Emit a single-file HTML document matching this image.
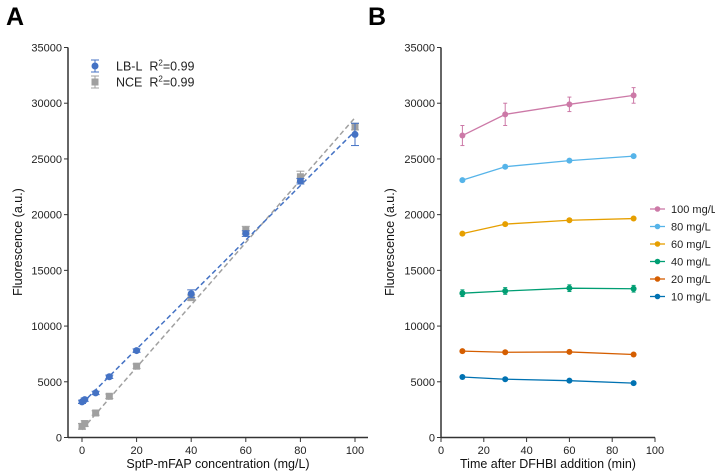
<!DOCTYPE html>
<html><head><meta charset="utf-8"><style>
body{margin:0;background:#fff}
svg{font-family:"Liberation Sans",Arial,sans-serif}
</style></head><body>
<svg id="s" width="715" height="471" viewBox="0 0 715 471" xmlns="http://www.w3.org/2000/svg">
<text x="6" y="25" font-size="25" font-weight="bold">A</text>
<text x="368" y="25" font-size="25" font-weight="bold">B</text>
<g id="ga"></g>
<g id="gb"></g>
</svg>
<script>
const aConc=[0,1,5,10,20,40,60,80,100];
const aLB=[3200,3400,4000,5450,7800,12900,18300,23000,27200];
const aLBerr=[150,150,150,150,150,350,250,250,1000];
const aNCE=[1000,1250,2200,3700,6400,12550,18600,23400,27900];
const aNCEerr=[250,250,200,200,200,250,350,500,300];
const aFitLB=[3050,27500];
const aFitNCE=[700,28700];
const aXTicks=[0,20,40,60,80,100];
const yTicks=[0,5000,10000,15000,20000,25000,30000,35000];
const bTimes=[10,30,60,90];
const bXTicks=[0,20,40,60,80,100];
const bLabels=["100 mg/L","80 mg/L","60 mg/L","40 mg/L","20 mg/L","10 mg/L"];
const bColors=["#cc79a7","#56b4e9","#e69f00","#009e73","#d55e00","#0072b2"];
const b100=[27100,29000,29900,30700];
const b80=[23100,24300,24850,25250];
const b60=[18300,19150,19500,19650];
const b40=[12950,13150,13400,13350];
const b20=[7750,7650,7680,7450];
const b10=[5430,5230,5100,4880];
const bErr100=[900,1000,650,700];
const bErrSmall=[120,120,120,120];
const bErr40=[300,300,300,300];

const NS="http://www.w3.org/2000/svg";
function mk(p,t,a){const e=document.createElementNS(NS,t);for(const k in a)e.setAttribute(k,a[k]);p.appendChild(e);return e;}
const yS=v=>437.5-v*(437.5-47.5)/35000;

function axes(g,ax,xS,xt,xmin,xmax,xtitle,ttlX){
  const yl=mk(g,'line',{x1:ax,y1:yS(35000),x2:ax,y2:437.5,stroke:'#333','stroke-width':1.5});
  
  const xl=mk(g,'line',{x1:xmin,y1:437.5,x2:xmax,y2:437.5,stroke:'#333','stroke-width':1.5});
  
  yTicks.forEach(v=>{mk(g,'line',{x1:ax-4,y1:yS(v),x2:ax,y2:yS(v),stroke:'#333'});
    const t=mk(g,'text',{x:ax-6,y:yS(v)+4,'font-size':11,'text-anchor':'end',fill:'#222'});t.textContent=v;
    });
  xt.forEach(v=>{mk(g,'line',{x1:xS(v),y1:437.5,x2:xS(v),y2:442,stroke:'#333'});
    const t=mk(g,'text',{x:xS(v),y:454,'font-size':11,'text-anchor':'middle',fill:'#222'});t.textContent=v;
    });
  const xt2=mk(g,'text',{x:(xmin+xmax)/2,y:468,'font-size':12.5,'text-anchor':'middle',fill:'#111'});xt2.textContent=xtitle;
  
  const yt=mk(g,'text',{x:0,y:0,'font-size':12.5,'text-anchor':'middle',fill:'#111',transform:`translate(${ttlX},242) rotate(-90)`});yt.textContent='Fluorescence (a.u.)';
  
}
function errbar(g,x,y,e,c,w){mk(g,'line',{x1:x,y1:yS(y-e),x2:x,y2:yS(y+e),stroke:c,'stroke-width':1});
  mk(g,'line',{x1:x-w,y1:yS(y-e),x2:x+w,y2:yS(y-e),stroke:c});mk(g,'line',{x1:x-w,y1:yS(y+e),x2:x+w,y2:yS(y+e),stroke:c});}

// Chart A
const ga=document.getElementById('ga');
const xA=v=>82+v*(355-82)/100;
axes(ga,68,xA,aXTicks,68,368,'SptP-mFAP concentration (mg/L)',22);
const fn=mk(ga,'line',{x1:xA(0),y1:yS(aFitNCE[0]),x2:xA(100),y2:yS(aFitNCE[1]),stroke:'#a0a0a0','stroke-width':1.5,'stroke-dasharray':'5,3'});

const fl=mk(ga,'line',{x1:xA(0),y1:yS(aFitLB[0]),x2:xA(100),y2:yS(aFitLB[1]),stroke:'#4472c4','stroke-width':1.5,'stroke-dasharray':'5,3'});

aConc.forEach((c,i)=>{
  errbar(ga,xA(c),aNCE[i],aNCEerr[i],'#a0a0a0',4);
  const r=mk(ga,'rect',{x:xA(c)-3.5,y:yS(aNCE[i])-3.5,width:7,height:7,fill:'#a0a0a0'});
  
  errbar(ga,xA(c),aLB[i],aLBerr[i],'#4472c4',4);
  const p=mk(ga,'circle',{cx:xA(c),cy:yS(aLB[i]),r:3.5,fill:'#4472c4'});
  
});
// legend A
[[66,'#4472c4','LB-L','circle'],[82,'#a0a0a0','NCE','rect']].forEach(([y,c,l,s])=>{
  const lg=mk(ga,'g',{});
  mk(lg,'line',{x1:95,y1:y-6,x2:95,y2:y+6,stroke:c});mk(lg,'line',{x1:91,y1:y-6,x2:99,y2:y-6,stroke:c});mk(lg,'line',{x1:91,y1:y+6,x2:99,y2:y+6,stroke:c});
  if(s==='circle')mk(lg,'circle',{cx:95,cy:y,r:3.5,fill:c});else mk(lg,'rect',{x:91.5,y:y-3.5,width:7,height:7,fill:c});
  const t=mk(lg,'text',{x:116,y:y+4.5,'font-size':12.5,fill:'#222'});
  t.innerHTML=l+'&#160;&#160;R<tspan dy="-5" font-size="8">2</tspan><tspan dy="5">=0.99</tspan>';
});

// Chart B
const gb=document.getElementById('gb');
const xB=v=>441+v*(655-441)/100;
axes(gb,441,xB,bXTicks,441,655,'Time after DFHBI addition (min)',394);
const series=[b100,b80,b60,b40,b20,b10];
const errs=[bErr100,bErrSmall,bErrSmall,bErr40,bErrSmall,bErrSmall];
const names=['series-100','series-80','series-60','series-40','series-20','series-10'];
series.forEach((s,k)=>{
  const c=bColors[k];
  const pl=mk(gb,'polyline',{points:bTimes.map((t,i)=>xB(t)+','+yS(s[i])).join(' '),fill:'none',stroke:c,'stroke-width':1.3});
  
  bTimes.forEach((t,i)=>{errbar(gb,xB(t),s[i],errs[k][i],c,2);
    const p=mk(gb,'circle',{cx:xB(t),cy:yS(s[i]),r:3,fill:c});
    });
  const y=209+k*17.5;
  const lg=mk(gb,'g',{});
  mk(lg,'line',{x1:650,y1:y,x2:665,y2:y,stroke:c,'stroke-width':1.3});
  mk(lg,'circle',{cx:657.5,cy:y,r:2.8,fill:c});
  const t=mk(lg,'text',{x:671,y:y+4,'font-size':11,fill:'#222'});t.textContent=bLabels[k];
});
</script>
</body></html>
